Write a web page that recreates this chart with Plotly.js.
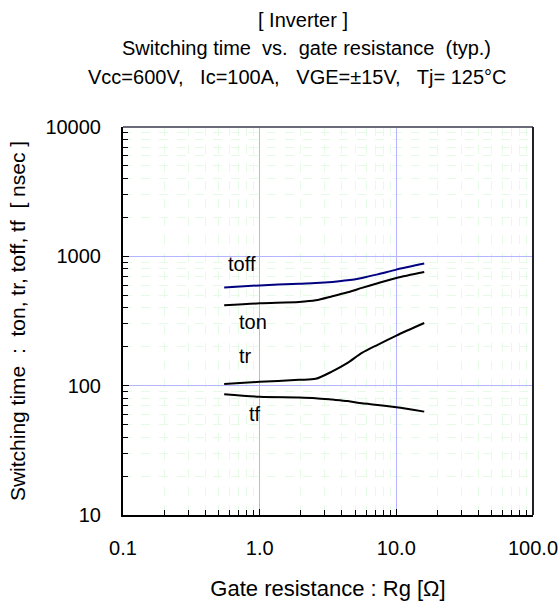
<!DOCTYPE html>
<html>
<head>
<meta charset="utf-8">
<script src="https://cdn.plot.ly/plotly-3.0.1.min.js"></script>
<style>html,body{margin:0;padding:0;background:#fff;}#chart{width:559px;height:605px;}</style>
</head>
<body>
<div id="chart"></div>
<script>
// Gate resistance Rg [Ω]
const rg = [0.55, 1.0, 1.94, 2.57, 3.4, 4.4, 5.6, 7.3, 10, 16];
// Switching times [nsec]
const toff = [575, 596, 615, 622, 634, 652, 681, 725, 789, 879];
const ton  = [418, 433, 444, 457, 491, 527, 570, 620, 681, 757];
const tr   = [103, 107, 111, 113, 129, 150, 179, 207, 244, 305];
const tf   = [86, 82, 81, 80, 78, 76, 73, 71, 68, 63];

const xTickVals = [0.1, 1, 10, 100];
const xTickText = ["0.1", "1.0", "10.0", "100.0"];
const yTickVals = [10, 100, 1000, 10000];
const yTickText = ["10", "100", "1000", "10000"];

const seriesLabels = ["toff", "ton", "tr", "tf"];
const labelX = [0.74, 0.89, 0.79, 0.93];
const labelY = [880, 313, 171, 60];

const titleLines = [
  "[ Inverter ]",
  "Switching time  vs.  gate resistance  (typ.)",
  "Vcc=600V,   Ic=100A,   VGE=±15V,   Tj= 125°C"
];

const FONT = "Arial, 'Liberation Sans', sans-serif";
const FS = 20;

function mk(y, color, name) {
  return {x: rg, y: y, mode: "lines", name: name,
    line: {color: color, width: 2, shape: "spline", smoothing: 0.8},
    hoverinfo: "skip"};
}

const data = [
  mk(toff, "#000080", "toff"),
  mk(ton, "#000000", "ton"),
  mk(tr, "#000000", "tr"),
  mk(tf, "#000000", "tf")
];

const annotations = [];
for (let i = 0; i < seriesLabels.length; i++) {
  annotations.push({x: Math.log10(labelX[i]), y: Math.log10(labelY[i]), xref: "x", yref: "y",
    text: seriesLabels[i], showarrow: false, font: {family: FONT, size: FS, color: "#000"}});
}
const titleYs = [48, 77];
const titleXs = [306, 297];
for (let i = 1; i < titleLines.length; i++) {
  annotations.push({x: (titleXs[i-1] - 123) / 410, y: (515 - titleYs[i-1]) / 388, xref: "paper", yref: "paper",
    text: titleLines[i], showarrow: false, xanchor: "center", yanchor: "middle",
    font: {family: FONT, size: FS, color: "#000"}});
}

const gridMinor = {dtick: "D1", ticks: "inside", ticklen: 5, tickcolor: "#000",
  showgrid: true, gridcolor: "#e6fbe6", griddash: "dash", gridwidth: 1};

const layout = {
  width: 559, height: 605,
  margin: {l: 123, r: 26, t: 127, b: 90},
  paper_bgcolor: "#fff", plot_bgcolor: "#fff",
  showlegend: false,
  font: {family: FONT, size: FS, color: "#000"},
  title: {text: titleLines[0], x: 303/559, xref: "container", xanchor: "center",
          y: 1 - 20/605, yref: "container", yanchor: "middle",
          font: {family: FONT, size: FS, color: "#000"}},
  xaxis: {
    type: "log", range: [-1, 2],
    tickvals: xTickVals, ticktext: xTickText,
    ticks: "inside", ticklen: 6, tickcolor: "#000", tickwidth: 1,
    showline: true, linecolor: "#000", linewidth: 2, mirror: false,
    showgrid: true, gridcolor: "#b4b4ff", gridwidth: 1,
    zeroline: false, ticklabelstandoff: 14,
    tickfont: {family: FONT, size: FS, color: "#000"},
    minor: gridMinor,
    title: {text: "Gate resistance : Rg [Ω]", standoff: 23,
            font: {family: FONT, size: 22, color: "#000"}}
  },
  yaxis: {
    type: "log", range: [1, 4],
    tickvals: yTickVals, ticktext: yTickText,
    ticks: "inside", ticklen: 6, tickcolor: "#000", tickwidth: 1,
    showline: true, linecolor: "#000", linewidth: 2, mirror: false,
    showgrid: true, gridcolor: "#b4b4ff", gridwidth: 1,
    zeroline: false, ticklabelstandoff: 16,
    tickfont: {family: FONT, size: FS, color: "#000"},
    minor: gridMinor,
    title: {text: "Switching time  :  ton, tr, toff, tf  [ nsec ]", standoff: 14,
            font: {family: FONT, size: 21, color: "#000"}}
  },
  shapes: [
    {type: "line", xref: "paper", yref: "paper", x0: 0, x1: 1, y0: 1, y1: 1,
     line: {color: "#6a6a78", width: 2}},
    {type: "line", xref: "paper", yref: "paper", x0: 1, x1: 1, y0: 0, y1: 1,
     line: {color: "#202028", width: 2}}
  ],
  annotations: annotations
};

Plotly.newPlot("chart", data, layout, {displayModeBar: false, staticPlot: true});
</script>
</body>
</html>
